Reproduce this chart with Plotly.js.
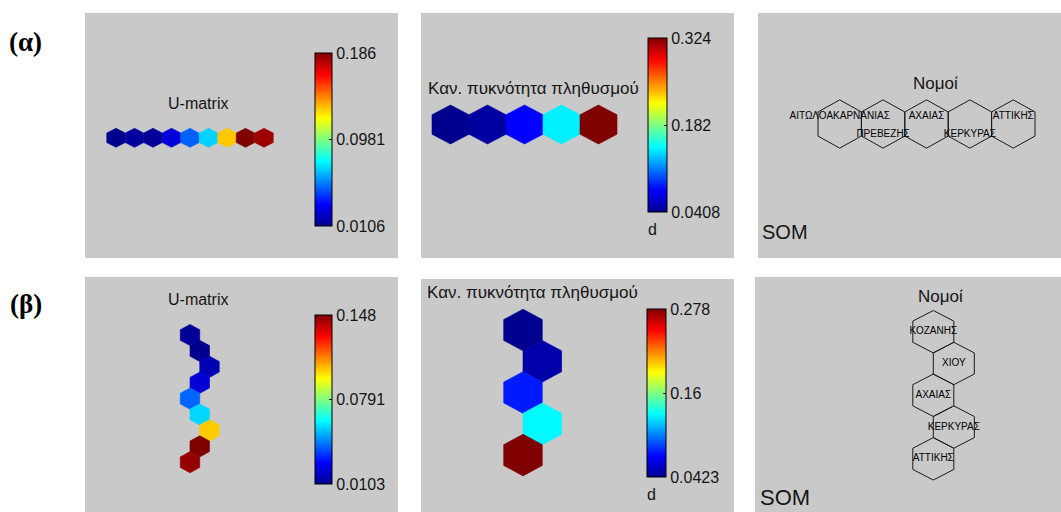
<!DOCTYPE html>
<html>
<head>
<meta charset="utf-8">
<script src="https://cdn.plot.ly/plotly-3.0.1.min.js"></script>
<style>html,body{margin:0;padding:0;background:#fff;}#chart{width:1061px;height:512px;}</style>
</head>
<body>
<div id="chart"></div>
<script>
// ---------------- DATA ----------------
// (α) map 1x5 : U-matrix (9 cells in one row) and population density
const umatA = [0.0106, 0.0141, 0.0124, 0.0246, 0.0492, 0.0685, 0.1299, 0.186, 0.1807];
const umatA_col = [0, 1, 2, 3, 4, 5, 6, 7, 8];
const umatA_row = [0, 0, 0, 0, 0, 0, 0, 0, 0];
const umatA_ticks = [0.0106, 0.0981, 0.186];
const umatA_tickText = ['0.0106', '0.0981', '0.186'];

const densA = [0.0408, 0.0465, 0.0762, 0.1428, 0.324];
const unitsA_col = [0, 1, 2, 3, 4];
const unitsA_row = [0, 0, 0, 0, 0];
const densA_ticks = [0.0408, 0.182, 0.324];
const densA_tickText = ['0.0408', '0.182', '0.324'];

const labelsA = ['ΑΙΤΩΛΟΑΚΑΡΝΑΝΙΑΣ', 'ΠΡΕΒΕΖΗΣ', 'ΑΧΑΙΑΣ', 'ΚΕΡΚΥΡΑΣ', 'ΑΤΤΙΚΗΣ'];
const labelsA_unit = [0, 1, 2, 3, 4];
const labelsA_slot = [0, 1, 0, 1, 0];

// (β) map 5x1 : U-matrix (9 cells in one column) and population density
const umatB = [0.0117, 0.0103, 0.0158, 0.0213, 0.0413, 0.0564, 0.1032, 0.148, 0.1452];
const umatB_col = [0, 0.5, 1, 0.5, 0, 0.5, 1, 0.5, 0];
const umatB_row = [0, 1, 2, 3, 4, 5, 6, 7, 8];
const umatB_ticks = [0.0103, 0.0791, 0.148];
const umatB_tickText = ['0.0103', '0.0791', '0.148'];

const densB = [0.0423, 0.0494, 0.0777, 0.1295, 0.278];
const unitsB_col = [0, 0.5, 0, 0.5, 0];
const unitsB_row = [0, 1, 2, 3, 4];
const densB_ticks = [0.0423, 0.16, 0.278];
const densB_tickText = ['0.0423', '0.16', '0.278'];

const labelsB = ['ΚΟΖΑΝΗΣ', 'ΧΙΟΥ', 'ΑΧΑΙΑΣ', 'ΚΕΡΚΥΡΑΣ', 'ΑΤΤΙΚΗΣ'];
const labelsB_unit = [0, 1, 2, 3, 4];

const rowLabels = ['(α)', '(β)'];
const titleUmat = 'U-matrix';
const titleDens = 'Καν. πυκνότητα πληθυσμού';
const titleNames = 'Νομοί';

// ---------------- HELPERS ----------------
const W = 1061, H = 512;
const FONT = 'Liberation Sans, Arial, Helvetica, sans-serif';
const TXT = '#151515';
const BG = '#c9c9c9';
const S3 = Math.sqrt(3);

const jetStops = [[0, [0, 0, 143]], [0.125, [0, 0, 255]], [0.375, [0, 255, 255]],
                  [0.625, [255, 255, 0]], [0.875, [255, 0, 0]], [1, [128, 0, 0]]];
const jetScale = jetStops.map(s => [s[0], 'rgb(' + s[1].join(',') + ')']);
function jet(v, lo, hi) {
  let t = (v - lo) / (hi - lo);
  t = Math.max(0, Math.min(1, t));
  for (let i = 1; i < jetStops.length; i++) {
    if (t <= jetStops[i][0]) {
      const a = jetStops[i - 1], b = jetStops[i];
      const f = (t - a[0]) / (b[0] - a[0]);
      const c = a[1].map((ca, k) => Math.round(ca + f * (b[1][k] - ca)));
      return 'rgb(' + c.join(',') + ')';
    }
  }
  return 'rgb(128,0,0)';
}
// lattice -> hex centre
const cx = (col) => col;
const cy = (row) => -row * S3 / 2;
function hexPath(x0, y0) {
  const r = 1 / S3;
  return {
    x: [x0, x0 + 0.5, x0 + 0.5, x0, x0 - 0.5, x0 - 0.5, x0],
    y: [y0 + r, y0 + r / 2, y0 - r / 2, y0 - r, y0 - r / 2, y0 + r / 2, y0 + r]
  };
}

// panel geometry (pixels) and lattice scaling
const panels = [
  {L: 85,  R: 398,  T: 13,  B: 258, ax: 116,   ay: 137.8, sx: 18.5, sy: 16.45},
  {L: 421, R: 734,  T: 13,  B: 258, ax: 450.5, ay: 124.5, sx: 37,   sy: 33.8},
  {L: 758, R: 1061, T: 13,  B: 258, ax: 839.7, ay: 124,   sx: 43.4, sy: 41.8},
  {L: 85,  R: 398,  T: 277, B: 512, ax: 190,   ay: 335,   sx: 19.5, sy: 18.36},
  {L: 421, R: 734,  T: 279, B: 512, ax: 523,   ay: 330,   sx: 38.6, sy: 36.1},
  {L: 755, R: 1061, T: 277, B: 512, ax: 933.3, ay: 331.7, sx: 41,   sy: 36.7}
];

const layout = {
  width: W, height: H,
  margin: {l: 0, r: 0, t: 0, b: 0, pad: 0},
  paper_bgcolor: '#ffffff',
  plot_bgcolor: BG,
  showlegend: false,
  hovermode: false,
  annotations: [],
  font: {family: FONT, color: TXT}
};
panels.forEach((p, i) => {
  const n = i === 0 ? '' : String(i + 1);
  layout['xaxis' + n] = {
    domain: [p.L / W, p.R / W],
    range: [(p.L - p.ax) / p.sx, (p.R - p.ax) / p.sx],
    visible: false, fixedrange: true,
    anchor: 'y' + n
  };
  layout['yaxis' + n] = {
    domain: [1 - p.B / H, 1 - p.T / H],
    range: [(p.ay - p.B) / p.sy, (p.ay - p.T) / p.sy],
    visible: false, fixedrange: true,
    anchor: 'x' + n
  };
});

const traces = [];
function axn(i) { return i === 0 ? '' : String(i + 1); }

function colouredHexes(panelIdx, vals, cols, rows, ticks, tickText, cb) {
  const n = axn(panelIdx);
  const lo = ticks[0], hi = ticks[ticks.length - 1];
  vals.forEach((v, k) => {
    const h = hexPath(cx(cols[k]), cy(rows[k]));
    const c = jet(v, lo, hi);
    traces.push({
      type: 'scatter', mode: 'lines', x: h.x, y: h.y,
      xaxis: 'x' + n, yaxis: 'y' + n,
      fill: 'toself', fillcolor: c,
      line: {color: c, width: 0.6},
      hoverinfo: 'skip'
    });
  });
  // centres coloured by value -> provides the colour bar
  traces.push({
    type: 'scatter', mode: 'markers',
    x: cols.map(cx), y: rows.map(cy),
    xaxis: 'x' + n, yaxis: 'y' + n,
    marker: {
      size: 1, opacity: 0, color: vals,
      colorscale: jetScale, cmin: lo, cmax: hi, showscale: true,
      colorbar: {
        x: cb.L / W, xanchor: 'left', xpad: 0,
        y: 1 - cb.T / H, yanchor: 'top', ypad: 0,
        len: cb.B - cb.T, lenmode: 'pixels',
        thickness: cb.R - cb.L, thicknessmode: 'pixels',
        outlinewidth: 1, outlinecolor: '#000',
        tickmode: 'array', tickvals: ticks, ticktext: tickText,
        ticks: 'inside', ticklen: 3, tickcolor: '#000', tickwidth: 1,
        tickfont: {family: FONT, size: 16, color: TXT},
        bgcolor: 'rgba(0,0,0,0)', borderwidth: 0
      }
    },
    hoverinfo: 'skip'
  });
}

function outlineHexes(panelIdx, cols, rows) {
  const n = axn(panelIdx);
  const xs = [], ys = [];
  cols.forEach((c, k) => {
    const h = hexPath(cx(c), cy(rows[k]));
    xs.push(...h.x, null); ys.push(...h.y, null);
  });
  traces.push({
    type: 'scatter', mode: 'lines', x: xs, y: ys,
    xaxis: 'x' + n, yaxis: 'y' + n,
    line: {color: '#1a1a1a', width: 1}, hoverinfo: 'skip'
  });
}

function unitLabels(panelIdx, labels, unitIdx, cols, rows, yOff) {
  const n = axn(panelIdx);
  traces.push({
    type: 'scatter', mode: 'text',
    x: unitIdx.map(u => cx(cols[u])),
    y: unitIdx.map((u, k) => cy(rows[u]) + yOff[k]),
    text: labels, textposition: 'middle center', cliponaxis: false,
    textfont: {family: FONT, size: 10, color: '#000'},
    xaxis: 'x' + n, yaxis: 'y' + n, hoverinfo: 'skip'
  });
}

// (α)
colouredHexes(0, umatA, umatA_col, umatA_row, umatA_ticks, umatA_tickText, {L: 315, R: 332, T: 53, B: 226});
colouredHexes(1, densA, unitsA_col, unitsA_row, densA_ticks, densA_tickText, {L: 648, R: 667, T: 38, B: 212});
outlineHexes(2, unitsA_col, unitsA_row);
unitLabels(2, labelsA, labelsA_unit, unitsA_col, unitsA_row, labelsA_slot.map(s => s === 0 ? 0.19 : -0.24));
// (β)
colouredHexes(3, umatB, umatB_col, umatB_row, umatB_ticks, umatB_tickText, {L: 315, R: 332, T: 315, B: 484});
colouredHexes(4, densB, unitsB_col, unitsB_row, densB_ticks, densB_tickText, {L: 647, R: 666, T: 309, B: 477});
outlineHexes(5, unitsB_col, unitsB_row);
unitLabels(5, labelsB, labelsB_unit, unitsB_col, unitsB_row, labelsB_unit.map(() => 0));

// text annotations
function ann(text, xpx, ypx, size, opts) {
  layout.annotations.push(Object.assign({
    text: text, xref: 'paper', yref: 'paper',
    x: xpx / W, y: 1 - ypx / H, xanchor: 'center', yanchor: 'middle',
    showarrow: false, font: {family: FONT, size: size, color: TXT}
  }, opts || {}));
}
const serifBold = {family: 'Liberation Serif, Times New Roman, serif', size: 27, color: '#000', weight: 'bold'};
ann('<b>' + rowLabels[0] + '</b>', 25.5, 42, 27, {font: serifBold});
ann('<b>' + rowLabels[1] + '</b>', 25.5, 304, 27, {font: serifBold});

ann(titleUmat, 198, 103, 16);
ann(titleDens, 533, 88, 17);
ann(titleNames, 935, 83, 17);
ann('SOM', 760, 232, 20, {xanchor: 'left'});
ann('d', 652.5, 229, 16);

ann(titleUmat, 198, 299, 16);
ann(titleDens, 532.5, 292, 17);
ann(titleNames, 940, 296, 17);
ann('SOM', 758, 497, 22, {xanchor: 'left'});
ann('d', 651.5, 494, 16);

Plotly.newPlot('chart', traces, layout, {staticPlot: true, displayModeBar: false});
</script>
</body>
</html>
